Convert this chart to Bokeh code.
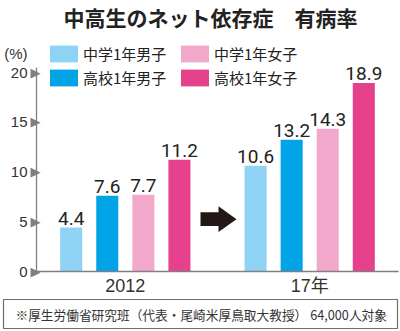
from bokeh.plotting import figure
from bokeh.layouts import column
from bokeh.models import (ColumnDataSource, FactorRange, Range1d, LinearAxis,
                          FixedTicker, Label, Legend, LegendItem)
from bokeh.transform import dodge
from bokeh.core.properties import value
from bokeh.embed import file_html
from bokeh.resources import INLINE

# ---------------- data ----------------
title_text = "中高生のネット依存症　有病率"
years = ["2012", "17年"]
groups = ["中学1年男子", "高校1年男子", "中学1年女子", "高校1年女子"]
chu_boys = [4.4, 10.6]
ko_boys = [7.6, 13.2]
chu_girls = [7.7, 14.3]
ko_girls = [11.2, 18.9]
y_ticks = [0, 5, 10, 15, 20]
unit_label = "(%)"
source_note = "※厚生労働省研究班（代表・尾崎米厚鳥取大教授） 64,000人対象"

series = [chu_boys, ko_boys, chu_girls, ko_girls]
colors = ["#8fd3f4", "#00a3e6", "#f2a8ca", "#e6418d"]
offsets = [-0.54, -0.18, 0.18, 0.54]
BAR_W = 0.22

# ---------------- layout ----------------
W = 400
H_TITLE, H_RULE, H_MAIN, H_FOOT = 31, 2, 265, 33
TOP_MAIN = H_TITLE + H_RULE
LEFT, RIGHT, BOTTOM = 36, 2, 24
PX_PER_PCT = 10.1
y_end = (H_MAIN - BOTTOM) / PX_PER_PCT
UNIT_POS = (H_MAIN - BOTTOM - (53 - TOP_MAIN)) / PX_PER_PCT   # where "(%)" sits

FP, RP = 0.84, 0.272
x_range = FactorRange(factors=years, factor_padding=FP, range_padding=RP)
span = len(years) + FP * (len(years) - 1)
x_scale = (W - LEFT - RIGHT) / (span * (1 + RP))


def strip_fig(h, left, right, top, bottom):
    f = figure(width=W, height=h,
               x_range=Range1d(0, W - left - right),
               y_range=Range1d(0, max(h - top - bottom, 1)),
               x_axis_type=None, y_axis_type=None, output_backend="svg",
               toolbar_location=None, outline_line_color=None,
               background_fill_color="white", border_fill_color="white",
               min_border_left=left, min_border_right=right,
               min_border_top=top, min_border_bottom=bottom, frame_align=False)
    f.xgrid.visible = False
    f.ygrid.visible = False
    return f


# ---- title strip: frame spans page x 3..400, y 0..31 ----
tf = strip_fig(H_TITLE, 3, 0, 0, 0)
tf.add_layout(Label(x=63 - 3, y=H_TITLE - 16, text=title_text,
                    text_align="left", text_baseline="middle",
                    text_font="Noto Sans CJK JP", text_font_style="bold",
                    text_font_size="21px", text_color="#222222"))

# ---- grey rule under the title: outline of a 2px-high frame ----
rf = strip_fig(H_RULE, 3, 0, 0, 0)
rf.outline_line_color = "#8c8c8c"
rf.outline_line_width = 1

# ---- main chart ----
p = figure(width=W, height=H_MAIN, x_range=x_range, y_range=Range1d(0, y_end),
           output_backend="svg", toolbar_location=None,
           min_border_left=LEFT, min_border_right=RIGHT,
           min_border_top=0, min_border_bottom=BOTTOM, frame_align=False,
           outline_line_color=None, background_fill_color="white",
           border_fill_color="white")
p.xgrid.grid_line_color = None
p.ygrid.grid_line_color = None

src = ColumnDataSource(dict(
    year=years,
    **{f"v{i}": s for i, s in enumerate(series)},
    **{f"t{i}": [f"{v:.1f}" for v in s] for i, s in enumerate(series)},
))

items = []
for i, (g, c, off) in enumerate(zip(groups, colors, offsets)):
    r = p.vbar(x=dodge("year", off, range=p.x_range), top=f"v{i}", width=BAR_W,
               source=src, fill_color=c, line_color=None)
    p.text(x=dodge("year", off, range=p.x_range), y=f"v{i}", text=f"t{i}",
           source=src, text_align="center", text_baseline="bottom", y_offset=-3,
           text_font=value("'Liberation Sans Narrow', Roboto, sans-serif"),
           text_font_size="19px", text_color="#222222")
    items.append(LegendItem(label=g, renderers=[r]))

legend = Legend(items=items, location="top_left", margin=10, padding=0,
                spacing=3, ncols=2, glyph_width=35, glyph_height=21,
                label_standoff=2, label_width=91, label_height=18,
                label_text_font="Noto Sans CJK JP", label_text_font_size="15px",
                label_text_color="#222222", border_line_color=None,
                background_fill_alpha=0)
p.add_layout(legend)

# arrow between the two years
gap_c = ((0.5 + offsets[-1] + BAR_W / 2) + (0.5 + 1 + FP + offsets[0] - BAR_W / 2)) / 2
u = 1 / x_scale
x0, xm, xt = gap_c - 17 * u, gap_c + 1 * u, gap_c + 19 * u
yc = (H_MAIN - BOTTOM - (221 - TOP_MAIN)) / PX_PER_PCT
sh, hh = 7 / PX_PER_PCT, 13 / PX_PER_PCT
p.patch([x0, xm, xm, xt, xm, xm, x0],
        [yc - sh, yc - sh, yc - hh, yc, yc + hh, yc + sh, yc + sh],
        fill_color="#231815", line_color=None)

# y axes: triangle markers next to the axis line, numbers further left
ax_tri = p.yaxis[0]
ax_tri.ticker = FixedTicker(ticks=y_ticks)
ax_tri.major_label_overrides = {t: "▶" for t in y_ticks}
ax_tri.major_label_text_font = "DejaVu Sans"
ax_tri.major_label_text_font_size = "13px"
ax_tri.major_label_text_color = "#808080"
ax_tri.major_tick_out = 0
ax_tri.major_tick_in = 0
ax_tri.minor_tick_out = 0
ax_tri.minor_tick_in = 0
ax_tri.axis_label_standoff = 0
ax_tri.major_label_standoff = -4
ax_tri.axis_line_color = "#7f7f7f"
ax_tri.axis_line_width = 1.3
ax_tri.bounds = (0, 20.5)

ax_num = LinearAxis(ticker=FixedTicker(ticks=y_ticks + [UNIT_POS]),
                    major_label_overrides={UNIT_POS: unit_label},
                    axis_line_color=None, major_tick_out=0, major_tick_in=0,
                    minor_tick_out=0, minor_tick_in=0, axis_label_standoff=0,
                    major_label_standoff=0, major_label_text_font="Liberation Sans",
                    major_label_text_font_size="15px", major_label_text_color="#333333")
p.add_layout(ax_num, "left")

xa = p.xaxis[0]
xa.axis_line_color = "#7f7f7f"
xa.axis_line_width = 1.3
xa.major_tick_out = 0
xa.major_tick_in = 0
xa.axis_label_standoff = 0
xa.major_label_standoff = 4
xa.major_label_text_font = "Liberation Sans, Noto Sans CJK JP"
xa.major_label_text_font_size = "18px"
xa.major_label_text_color = "#333333"

# ---- footnote strip: frame outline is the box, page x 3..397, y 299..328 ----
ff = strip_fig(H_FOOT, 3, 3, 1, 3)
ff.outline_line_color = "#6f6f6f"
ff.outline_line_width = 1.2
ff.add_layout(Label(x=15 - 3, y=(H_FOOT - 4) - (314 - 299), text=source_note,
                    text_align="left", text_baseline="middle",
                    text_font="Noto Sans CJK JP", text_font_size="12.7px",
                    text_color="#333333"))

layout = column(tf, rf, p, ff, spacing=0)
open("out.html", "w").write(file_html(layout, INLINE))
